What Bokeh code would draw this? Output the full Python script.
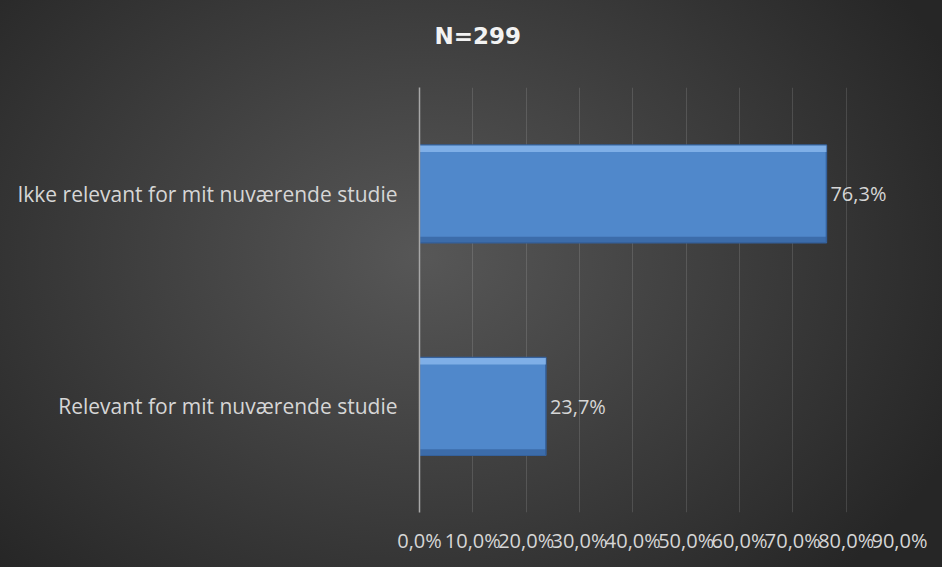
from bokeh.plotting import figure
from bokeh.models import (ColumnDataSource, FactorRange, Range1d, FixedTicker,
                          LabelSet, InlineStyleSheet, Title)
from bokeh.core.properties import value
from bokeh.transform import dodge
from bokeh.embed import file_html
from bokeh.resources import INLINE

# ---- data ----
categories = ["Ikke relevant for mit nuværende studie", "Relevant for mit nuværende studie"]
values = [76.3, 23.7]
value_labels = ["76,3%", "23,7%"]
tick_values = [0, 10, 20, 30, 40, 50, 60, 70, 80, 90]
tick_labels = ["0,0%", "10,0%", "20,0%", "30,0%", "40,0%", "50,0%", "60,0%", "70,0%", "80,0%", "90,0%"]
title_text = "N=299"

FONT = "Open Sans"
TXT = "#d6d6d6"
BAR_H = 0.46

source = ColumnDataSource(dict(cat=categories, val=values, lab=value_labels))

p = figure(width=942, height=567,
           y_range=FactorRange(factors=list(reversed(categories)), range_padding=0),
           x_range=Range1d(0, 90),
           output_backend="svg", toolbar_location=None,
           min_border_left=419, min_border_right=43,
           min_border_top=87, min_border_bottom=55)

p.border_fill_color = None
p.background_fill_color = None
p.outline_line_color = None
p.stylesheets = [InlineStyleSheet(css=":host { background: radial-gradient(ellipse 62% 80% at 45% 45%, #575757 0%, #3c3c3c 55%, #262626 100%); }")]

# blank spacer next to the plot area
p.add_layout(Title(text=" ", text_font_size="1px", standoff=36), "above")

# visible chart title (outermost)
p.title.text = title_text
p.title.align = "left"
p.title.offset = 15
p.title.standoff = 0
p.title.text_color = "#f2f2f2"
p.title.text_font = "DejaVu Sans"
p.title.text_font_style = "bold"
p.title.text_font_size = "23px"

# main bars
p.hbar(y="cat", right="val", left=0, height=BAR_H, source=source,
       fill_color="#5088cb", line_color="#35619c", line_width=1.5)
# bevel highlight (top) and shade (bottom)
p.hbar(y=dodge("cat", BAR_H / 2 - 0.018, range=p.y_range), right="val", left=0, height=0.03,
       source=source, fill_color="#8fbcf0", fill_alpha=0.75, line_color=None)
p.hbar(y=dodge("cat", -BAR_H / 2 + 0.015, range=p.y_range), right="val", left=0, height=0.025,
       source=source, fill_color="#2f5a94", fill_alpha=0.6, line_color=None)

labels = LabelSet(x="val", y="cat", text="lab", source=source, x_offset=4,
                  text_baseline="middle", text_align="left",
                  text_color=TXT, text_font=value(FONT), text_font_size=value("20px"))
p.add_layout(labels)

# axes
p.xaxis.ticker = FixedTicker(ticks=tick_values)
p.xaxis.major_label_overrides = {t: s for t, s in zip(tick_values, tick_labels)}
p.xaxis.axis_line_color = None
p.xaxis.major_tick_line_color = None
p.xaxis.minor_tick_line_color = None
p.xaxis.major_label_standoff = 8
p.xaxis.major_label_text_color = TXT
p.xaxis.major_label_text_font = FONT
p.xaxis.major_label_text_font_size = "20px"

p.yaxis.axis_line_color = "#a8a8a8"
p.yaxis.axis_line_width = 1.5
p.yaxis.major_tick_line_color = None
p.yaxis.minor_tick_line_color = None
p.yaxis.major_label_standoff = 16
p.yaxis.major_label_text_color = TXT
p.yaxis.major_label_text_font = FONT
p.yaxis.major_label_text_font_size = "21px"

p.xgrid.grid_line_color = "#ffffff"
p.xgrid.grid_line_alpha = 0.13
p.ygrid.grid_line_color = None

open("out.html", "w").write(file_html(p, INLINE))
